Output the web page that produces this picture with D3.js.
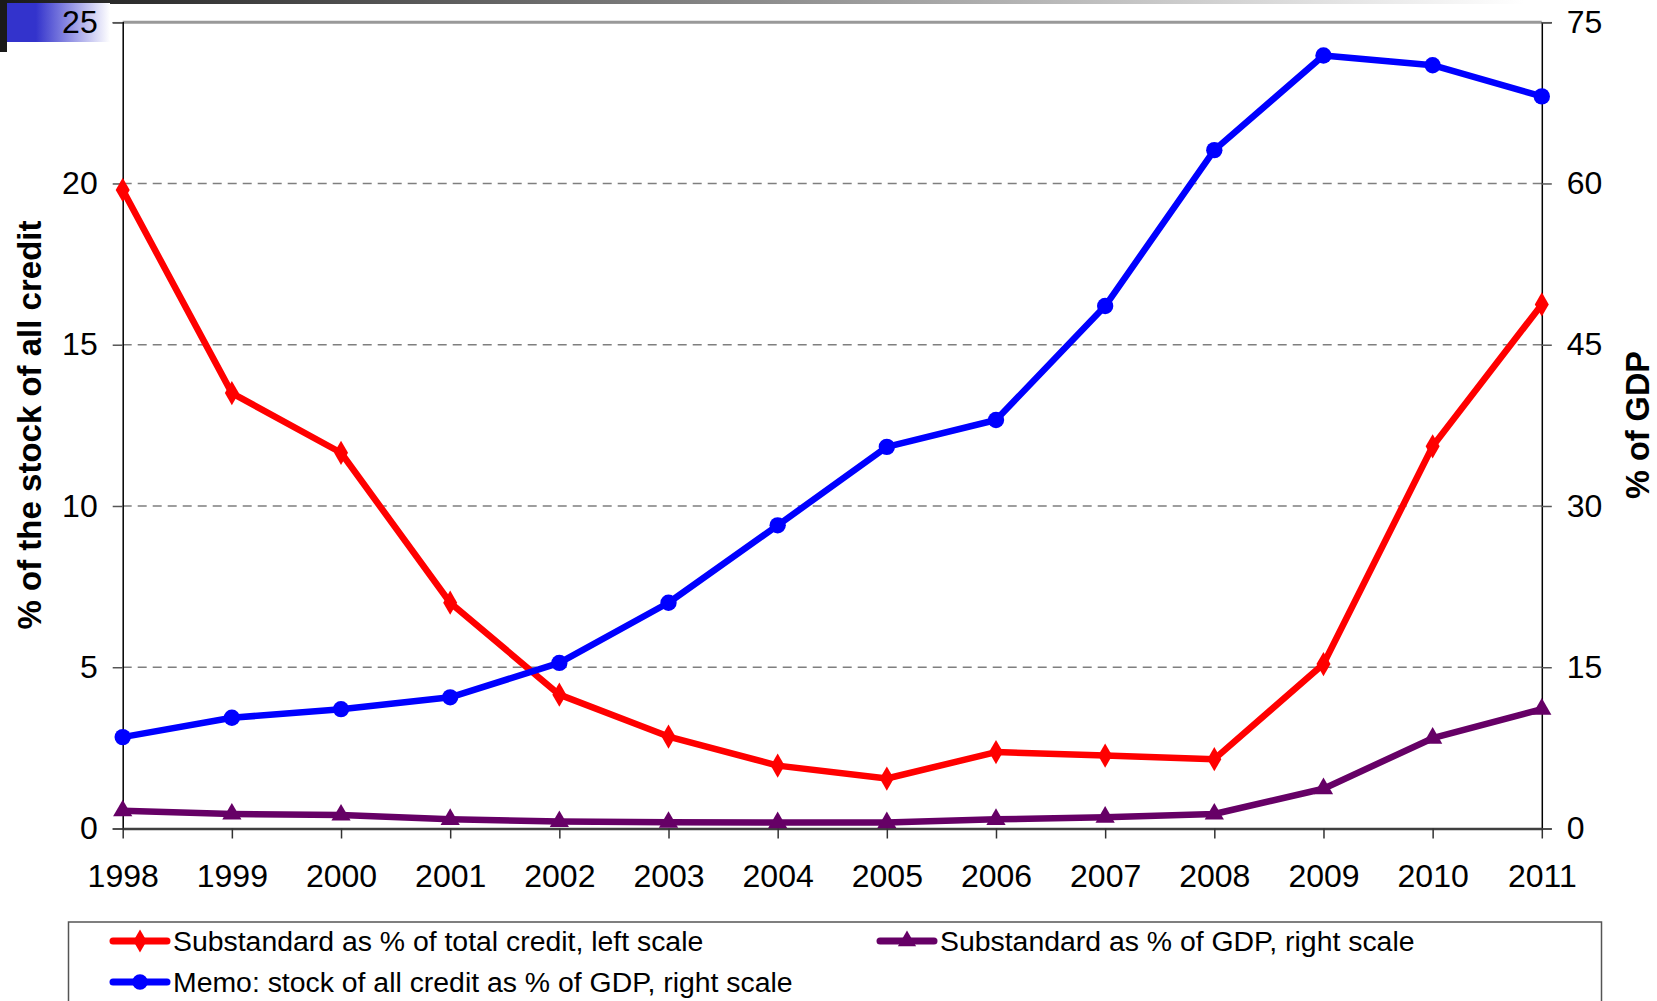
<!DOCTYPE html>
<html>
<head>
<meta charset="utf-8">
<script src="https://cdn.jsdelivr.net/npm/d3@7"></script>
<style>
  html, body { margin: 0; padding: 0; background: #fff; }
  svg { display: block; font-family: "Liberation Sans", Arial, sans-serif; }
</style>
</head>
<body>
<svg id="chart" width="1657" height="1001"></svg>
<script>
// ---- data ----
const years = [1998, 1999, 2000, 2001, 2002, 2003, 2004, 2005, 2006, 2007, 2008, 2009, 2010, 2011];
const substandardPctCredit = [19.8, 13.5, 11.65, 7.0, 4.15, 2.85, 1.95, 1.55, 2.37, 2.26, 2.15, 5.1, 11.85, 16.25];
const creditPctGDP = [8.5, 10.3, 11.1, 12.2, 15.4, 21.0, 28.2, 35.5, 38.0, 48.6, 63.1, 71.9, 71.0, 68.1];
const substandardPctGDP = [1.65, 1.35, 1.25, 0.85, 0.65, 0.58, 0.55, 0.55, 0.85, 1.05, 1.35, 3.7, 8.4, 11.1];
const leftTicks = [0, 5, 10, 15, 20, 25];
const rightTicks = [0, 15, 30, 45, 60, 75];
const leftTitle = "% of the stock of all credit";
const rightTitle = "% of GDP";
const legendLabels = [
  "Substandard as % of total credit, left scale",
  "Substandard as % of GDP, right scale",
  "Memo: stock of all credit as % of GDP, right scale"
];

const svg = d3.select("#chart");
const defs = svg.append("defs");

// ---- decoration (template) ----
const g1 = defs.append("linearGradient").attr("id", "topbar").attr("x1", 0).attr("x2", 1);
g1.append("stop").attr("offset", 0).attr("stop-color", "#1a1a1a");
g1.append("stop").attr("offset", 0.45).attr("stop-color", "#8a8a8a");
g1.append("stop").attr("offset", 0.92).attr("stop-color", "#ffffff");
svg.append("rect").attr("x", 0).attr("y", 0).attr("width", 1657).attr("height", 4).attr("fill", "url(#topbar)");
const g2 = defs.append("linearGradient").attr("id", "bluebar").attr("x1", 0).attr("x2", 1);
g2.append("stop").attr("offset", 0).attr("stop-color", "#3333cc");
g2.append("stop").attr("offset", 0.28).attr("stop-color", "#3333cc");
g2.append("stop").attr("offset", 1).attr("stop-color", "#ffffff");
svg.append("rect").attr("x", 7).attr("y", 3).attr("width", 103).attr("height", 39).attr("fill", "url(#bluebar)");
svg.append("rect").attr("x", 0).attr("y", 0).attr("width", 7).attr("height", 52).attr("fill", "#1a1a1a");

// ---- scales ----
const x0 = 122.7, x1 = 1541.8, yTop = 22.2, yBot = 828.5;
const x = d3.scalePoint().domain(years).range([x0, x1]);
const yL = d3.scaleLinear().domain([0, 25]).range([yBot, yTop]);
const yR = d3.scaleLinear().domain([0, 75]).range([yBot, yTop]);

// gridlines
svg.append("g").selectAll("line").data(leftTicks.filter(t => t > 0 && t < 25)).join("line")
  .attr("x1", x0).attr("x2", x1).attr("y1", d => yL(d)).attr("y2", d => yL(d))
  .attr("stroke", "#7f7f7f").attr("stroke-width", 1.5).attr("stroke-dasharray", "9,6");
// top border
svg.append("line").attr("x1", x0).attr("x2", x1).attr("y1", yTop).attr("y2", yTop)
  .attr("stroke", "#999").attr("stroke-width", 3);

// left axis
const axL = d3.axisLeft(yL).tickValues(leftTicks).tickSize(10).tickPadding(15).tickFormat(d3.format("d"));
const gL = svg.append("g").attr("transform", `translate(${x0},0)`).call(axL);
gL.select(".domain").attr("stroke", "#000").attr("stroke-width", 1.5);
gL.selectAll(".tick line").attr("stroke", "#555").attr("stroke-width", 1.5);
gL.selectAll("text").attr("font-size", 32).attr("fill", "#000").attr("font-family", "Liberation Sans, Arial, sans-serif");

// right axis
const axR = d3.axisRight(yR).tickValues(rightTicks).tickSize(10).tickPadding(15).tickFormat(d3.format("d"));
const gR = svg.append("g").attr("transform", `translate(${x1},0)`).call(axR);
gR.select(".domain").attr("stroke", "#000").attr("stroke-width", 1.5);
gR.selectAll(".tick line").attr("stroke", "#555").attr("stroke-width", 1.5);
gR.selectAll("text").attr("font-size", 32).attr("fill", "#000").attr("font-family", "Liberation Sans, Arial, sans-serif");

// bottom axis
const axB = d3.axisBottom(x).tickSize(10).tickPadding(26).tickSizeOuter(0);
const gB = svg.append("g").attr("transform", `translate(0,${yBot})`).call(axB);
gB.select(".domain").attr("stroke", "#404040").attr("stroke-width", 2.5);
gB.selectAll(".tick line").attr("stroke", "#333").attr("stroke-width", 1.5);
gB.selectAll("text").attr("font-size", 32).attr("fill", "#000").attr("font-family", "Liberation Sans, Arial, sans-serif");

// axis titles
svg.append("text").attr("transform", "translate(41,425) rotate(-90)")
  .attr("text-anchor", "middle").attr("font-size", 33).attr("font-weight", "bold").text(leftTitle);
svg.append("text").attr("transform", "translate(1649,425) rotate(-90)")
  .attr("text-anchor", "middle").attr("font-size", 32.5).attr("font-weight", "bold").text(rightTitle);

// ---- series ----
const series = [
  { vals: substandardPctCredit, y: yL, color: "#ff0000", sym: d3.symbolDiamond, size: 170 },
  { vals: creditPctGDP, y: yR, color: "#0000ff", sym: d3.symbolCircle, size: 210 },
  { vals: substandardPctGDP, y: yR, color: "#660066", sym: d3.symbolTriangle, size: 160 }
];
const plotG = svg.append("g");
series.forEach(s => {
  const pts = years.map((yr, i) => [x(yr), s.y(s.vals[i])]);
  plotG.append("path").attr("d", d3.line()(pts)).attr("fill", "none")
    .attr("stroke", s.color).attr("stroke-width", 6.5).attr("stroke-linejoin", "round");
});
series.forEach(s => {
  const sym = d3.symbol().type(s.sym).size(s.size);
  plotG.append("g").selectAll("path").data(s.vals).join("path")
    .attr("transform", (d, i) => `translate(${x(years[i])},${s.y(d)})`)
    .attr("d", sym()).attr("fill", s.color);
});

// ---- legend ----
svg.append("rect").attr("x", 68.5).attr("y", 922).attr("width", 1533).attr("height", 100)
  .attr("fill", "#fff").attr("stroke", "#555").attr("stroke-width", 1.5);
const legendItems = [
  { label: legendLabels[0], s: series[0], lx: 113, ly: 941 },
  { label: legendLabels[1], s: series[2], lx: 880, ly: 941 },
  { label: legendLabels[2], s: series[1], lx: 113, ly: 982 }
];
legendItems.forEach(it => {
  svg.append("line").attr("x1", it.lx).attr("x2", it.lx + 54).attr("y1", it.ly).attr("y2", it.ly)
    .attr("stroke", it.s.color).attr("stroke-width", 7).attr("stroke-linecap", "round");
  svg.append("path").attr("transform", `translate(${it.lx + 27},${it.ly})`)
    .attr("d", d3.symbol().type(it.s.sym).size(it.s.size * 0.9)()).attr("fill", it.s.color);
  svg.append("text").attr("x", it.lx + 60).attr("y", it.ly + 10).attr("font-size", 28.4)
    .attr("fill", "#000").text(it.label);
});
</script>
</body>
</html>
